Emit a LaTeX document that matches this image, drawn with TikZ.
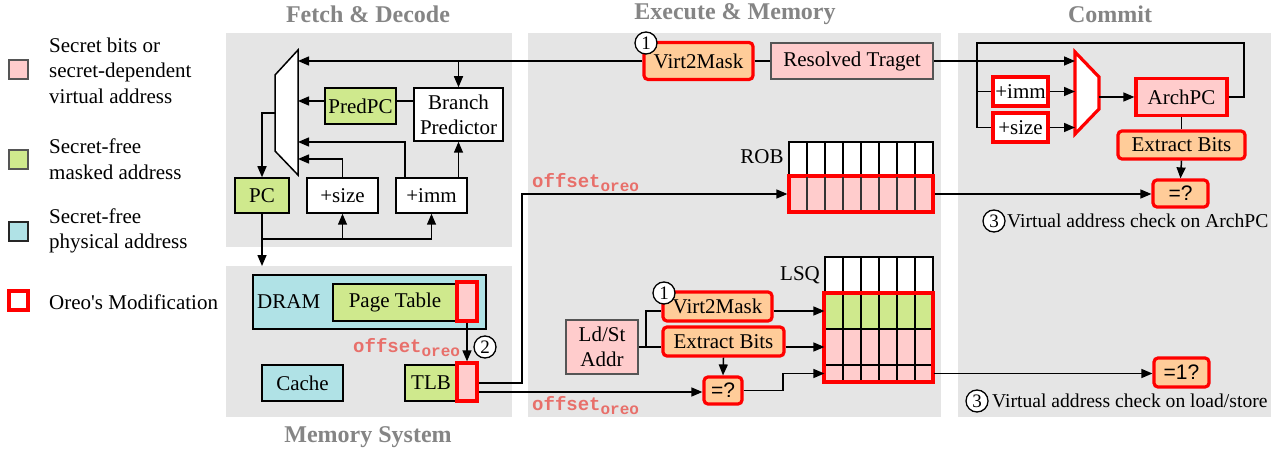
\documentclass[tikz,border=0pt]{standalone}
\usepackage{fontspec}
\setmainfont{Liberation Serif}
\setsansfont{Liberation Sans}
\setmonofont{Liberation Mono}
\newfontfamily\plainserif{Liberation Serif}
\usetikzlibrary{arrows.meta,calc}
\definecolor{pinkc}{HTML}{FFCCCC}
\definecolor{greenc}{HTML}{CFE98D}
\definecolor{cyanc}{HTML}{B0E2E6}
\definecolor{orangec}{HTML}{FFCC99}
\definecolor{panelc}{HTML}{E5E5E5}
\definecolor{titlec}{HTML}{858585}
\definecolor{offc}{HTML}{E86F6A}
\definecolor{bordc}{HTML}{555555}
\newcommand\fsz[2]{\fontsize{#1}{#2}\selectfont}
\newcommand\offo{offset\raisebox{-4pt}{\fsz{16}{16}oreo}}
\begin{document}
\begin{tikzpicture}[x=1pt,y=-1pt,
  every node/.style={inner sep=0pt},
  ln/.style={line width=1.5pt},
  arr/.style={line width=1.5pt,-{Triangle[length=11pt,width=9pt]}},
  bx/.style={draw=black,line width=1.5pt,font=\fsz{21}{25},align=center},
  gbx/.style={draw=bordc,line width=1.5pt,font=\fsz{21}{25},align=center},
  rbx/.style={draw=red,line width=3.2pt,font=\fsz{21}{25},align=center},
  obx/.style={draw=red,line width=3.2pt,fill=orangec,rounded corners=4pt,font=\fsz{21}{25},align=center},
  sbx/.style={draw=red,line width=3.2pt,fill=orangec,rounded corners=4pt,font=\sffamily\fsz{21}{25}},
  ttl/.style={font=\bfseries\fsz{24}{28},text=titlec,anchor=base},
  circ/.style={circle,draw=black,line width=1.3pt,fill=white,minimum size=22pt,font=\fsz{19}{19}},
  note/.style={font=\fsz{19.6}{22},anchor=west},
  off/.style={font=\ttfamily\bfseries\fsz{19}{19},text=offc,anchor=base west},
  leg/.style={font=\fsz{21}{25.5},align=left,anchor=west},
  cell/.style={draw=black,line width=1.2pt}]
\useasboundingbox (0,0) rectangle (1281,454);
\fill[white] (0,0) rectangle (1281,454);
% panels
\fill[panelc] (226,33) rectangle (512,247);
\fill[panelc] (226,266) rectangle (512,417);
\fill[panelc] (528,33) rectangle (941,417);
\fill[panelc] (958,33) rectangle (1271,417);
\node[ttl] (t1) at (368,23) {Fetch \& Decode};
\node[ttl] (t2) at (735,20) {Execute \& Memory};
\node[ttl] (t3) at (1110,23) {Commit};
\node[ttl] (t4) at (368,442) {Memory System};
% legend
\node[gbx,fill=pinkc,minimum size=19pt] (lg1) at (18.5,69.5) {};
\node[gbx,fill=greenc,minimum size=19pt,draw=bordc] (lg2) at (18.5,159.5) {};
\node[bx,fill=cyanc,minimum size=19pt,draw=black!85] (lg3) at (18.5,231.5) {};
\node[rbx,fill=white,minimum size=19pt,line width=3.4pt] (lg4) at (18.5,300.5) {};
\node[leg] (lt1) at (49,70.5) {Secret bits or\\secret-dependent\\virtual address};
\node[leg] (lt2) at (49,159) {Secret-free\\masked address};
\node[leg] (lt3) at (49,231) {Secret-free\\physical address};
\node[leg] (lt4) at (49,302) {Oreo{\plainserif'}s Modification};
% fetch
\draw[fill=white,line width=1.5pt] (298,50) -- (275,75) -- (275,151) -- (298,175) -- cycle;
\coordinate (mf1) at (298,61);
\coordinate (mf2) at (298,101);
\coordinate (mf3) at (298,142);
\coordinate (mf4) at (298,159);
\coordinate (mfl) at (275,113);
\node[bx,fill=greenc,minimum width=71pt,minimum height=36pt] (pred) at (360.5,106) {PredPC};
\node[bx,fill=white,minimum width=89pt,minimum height=53pt] (bp) at (458.5,114.5) {Branch\\Predictor};
\node[bx,fill=greenc,minimum width=54pt,minimum height=35pt] (pc) at (262,195.5) {PC};
\node[bx,fill=white,minimum width=71pt,minimum height=35pt] (psz) at (342.5,195.5) {+size};
\node[bx,fill=white,minimum width=71pt,minimum height=35pt] (pim) at (431.5,195.5) {+imm};
\coordinate (pcb) at (262,239);
\coordinate (memtop) at (262,266);
% execute top
\node[obx,minimum width=109pt,minimum height=37pt] (v2m) at (698.5,61) {Virt2Mask};
\node[circ] (c1a) at (646,43) {1};
\node[gbx,fill=pinkc,minimum width=162pt,minimum height=36pt] (rt) at (852,61) {Resolved Traget};
\draw[arr] (v2m.west) -- (mf1);
\draw[ln] (v2m.east) -- (rt.west);
\draw[arr] (bp.north |- mf1) -- (bp.north);
\draw[arr] ([yshift=5pt]pred.west) -- (mf2);
\draw[ln] ([yshift=5pt]pred.east) -- ([yshift=5pt]pred.east -| bp.west);
\draw[arr] ([xshift=-26.5pt]pim.north) |- (mf3);
\draw[arr] (psz.north) |- (mf4);
\draw[arr] (bp.south |- pim.north) -- (bp.south);
\draw[arr] (mfl) -| (pc.north);
\draw[ln] (pc.south) -- (pcb) -- (pcb -| pim);
\draw[arr] (pcb -| psz) -- (psz.south);
\draw[arr] (pcb -| pim) -- (pim.south);
\draw[arr] (pcb) -- (memtop);
% memory
\node[bx,fill=cyanc,minimum width=233pt,minimum height=54pt] (dram) at (369.5,302) {};
\node[font=\fsz{21}{25},anchor=west] (dramt) at (257,302) {DRAM};
\node[bx,fill=greenc,minimum width=124pt,minimum height=37pt] (pt) at (395,302.5) {Page Table};
\node[rbx,fill=pinkc,minimum width=20pt,minimum height=39pt] (ptr) at (467,301.5) {};
\node[bx,fill=cyanc,minimum width=81pt,minimum height=36pt] (cache) at (302.5,383) {Cache};
\node[bx,fill=greenc,minimum width=52pt,minimum height=36pt] (tlb) at (431,383) {TLB};
\node[rbx,fill=pinkc,minimum width=20pt,minimum height=38pt] (tlbr) at (467,382) {};
\draw[arr] (ptr.south) -- (tlbr.north);
\node[off] (o1) at (353,352) {\offo};
\node[circ] (c2) at (485,347) {2};
% ROB
\foreach \i in {0,...,7} \draw[cell,fill=white] (789+18*\i,142) rectangle ++(18,34);
\node[rbx,fill=pinkc,minimum width=144pt,minimum height=36pt] (rob) at (861,194) {};
\foreach \i in {1,...,7} \draw[line width=1.2pt,black!80] (789+18*\i,177.5) -- ++(0,33);
\node[font=\fsz{21}{25}] (robt) at (762,157) {ROB};
\coordinate (j1) at (522,195);
\draw[arr] ([yshift=-1pt]tlbr.east) -| (j1) |- (rob.west);
\node[off] (o2) at (532,188) {\offo};
% LSQ
\foreach \i in {0,...,5} \draw[cell,fill=white] (825+18*\i,257) rectangle ++(18,36);
\node[cell,fill=greenc,minimum width=108pt,minimum height=36pt] (lsqg) at (879,311) {};
\node[cell,fill=pinkc,minimum width=108pt,minimum height=36pt] (lsqp) at (879,347) {};
\node[cell,fill=pinkc,minimum width=108pt,minimum height=17pt] (lsqn) at (879,373.5) {};
\foreach \i in {1,...,5} \draw[line width=1.2pt] (825+18*\i,293) -- ++(0,89);
\draw[red,line width=3.2pt] (824,293) rectangle (933,382);
\node[font=\fsz{21}{25}] (lsqt) at (800,275) {LSQ};
\node[gbx,fill=pinkc,minimum width=72pt,minimum height=54pt] (ldst) at (602,347) {Ld/St\\Addr};
\node[obx,minimum width=109pt,minimum height=29pt] (v2ml) at (717.5,306.5) {Virt2Mask};
\node[circ] (c1b) at (664,293) {1};
\node[obx,minimum width=121pt,minimum height=29pt] (ebl) at (723.5,341.5) {Extract Bits};
\node[sbx,minimum width=38pt,minimum height=27pt] (eql) at (723,390.5) {=?};
\coordinate (fk) at (646,347);
\draw[ln] (ldst.east) -- (fk) |- (v2ml.west |- lsqg.west);
\draw[ln] (fk) -- (ebl.west |- fk);
\draw[arr] (v2ml.east |- lsqg.west) -- (lsqg.west);
\draw[arr] (ebl.east |- lsqp.west) -- (lsqp.west);
\draw[arr] (ebl.south) -- (eql.north);
\coordinate (k1) at (783,373.5);
\draw[arr] (eql.east) -| (k1) -- (lsqn.west);
\draw[arr] ([yshift=-10pt]tlbr.east) -- ([yshift=-10pt]tlbr.east -| eql.west);
\node[off] (o3) at (532,410) {\offo};
% commit
\draw[fill=white,draw=red,line width=3.2pt] (1075,52) -- (1099,77) -- (1099,109) -- (1075,134) -- cycle;
\coordinate (mc1) at (1075,61);
\coordinate (mc2) at (1075,91.5);
\coordinate (mc3) at (1075,127.5);
\coordinate (mco) at (1099,97);
\node[rbx,fill=white,minimum width=55pt,minimum height=29pt] (pic) at (1020.5,91.5) {+imm};
\node[rbx,fill=white,minimum width=55pt,minimum height=29pt] (psc) at (1020.5,127.5) {+size};
\node[rbx,fill=pinkc,minimum width=91pt,minimum height=37pt] (arch) at (1181.5,97) {ArchPC};
\node[obx,minimum width=127pt,minimum height=28pt] (ebc) at (1181.5,145) {Extract Bits};
\node[sbx,minimum width=55pt,minimum height=27pt] (eqc) at (1180.5,193.5) {=?};
\node[sbx,minimum width=55pt,minimum height=29pt] (eq1) at (1181.5,372.5) {=1?};
\draw[arr] (rt.east) -- (rt.east -| mc1);
\draw[arr] (pic.east) -- (mc2);
\draw[arr] (psc.east) -- (mc3);
\draw[arr] (mco) -- (mco -| arch.west);
\coordinate (fbR) at (1244,43);
\coordinate (fbL) at (977,43);
\draw[ln] (arch.east |- mco) -| (fbR) -- (fbL) |- (psc.west);
\draw[ln] (fbL |- pic.west) -- (pic.west);
\draw[ln] (arch.south) -- (ebc.north);
\draw[arr] (ebc.south) -- (eqc.north);
\draw[arr] (rob.east) -- (rob.east -| eqc.west);
\draw[arr] (lsqn.east) -- (lsqn.east -| eq1.west);
\node[circ] (c3a) at (994,221) {3};
\node[note] (n1) at (1007,221) {Virtual address check on ArchPC};
\node[circ] (c3b) at (977,401) {3};
\node[note] (n2) at (992,401) {Virtual address check on load/store};
\end{tikzpicture}
\end{document}
